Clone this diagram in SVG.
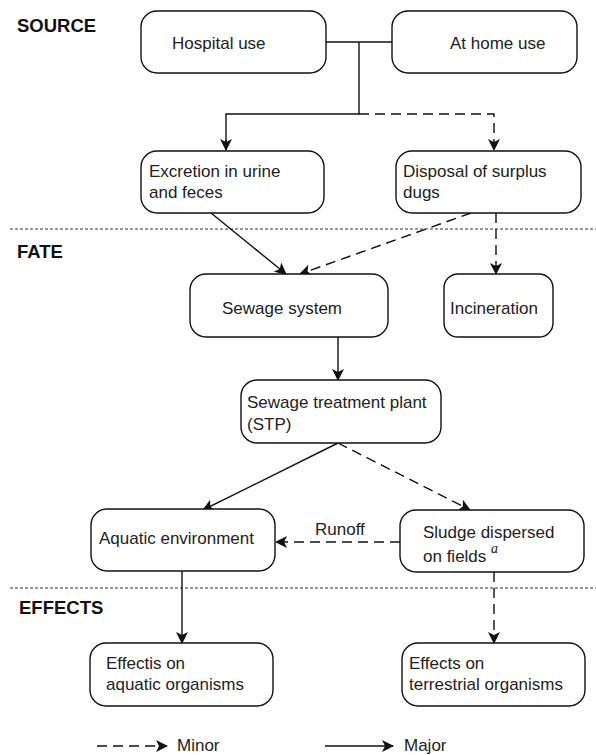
<svg xmlns="http://www.w3.org/2000/svg" width="596" height="755" viewBox="0 0 596 755">
<style>
  .box { fill: #fff; stroke: #111; stroke-width: 1.4; }
  .t { font-family: "Liberation Sans", Arial, sans-serif; font-size: 17px; fill: #222; }
  .h { font-family: "Liberation Sans", Arial, sans-serif; font-size: 18.5px; font-weight: bold; fill: #111; }
  .ln { fill: none; stroke: #111; stroke-width: 1.4; }
  .dl { fill: none; stroke: #111; stroke-width: 1.4; stroke-dasharray: 10 6; }
  .sep { fill: none; stroke: #333; stroke-width: 1; stroke-dasharray: 3 2; }
</style>
<defs>
  <marker id="ah" viewBox="0 0 12 12" refX="11" refY="6" markerWidth="12" markerHeight="12" markerUnits="userSpaceOnUse" orient="auto">
    <path d="M0,0 L12,6 L0,12 L3,6 z" fill="#111"/>
  </marker>
</defs>
<rect width="596" height="755" fill="#fff"/>

<g id="section-labels">
  <text class="h" x="17" y="32">SOURCE</text>
  <text class="h" x="17" y="258">FATE</text>
  <text class="h" x="19" y="614">EFFECTS</text>
  <line class="sep" x1="10" y1="229" x2="596" y2="229"/>
  <line class="sep" x1="10" y1="588" x2="596" y2="588"/>
</g>

<g id="connectors">
  <polyline class="ln" points="326,42 392,42"/>
  <polyline class="ln" points="359,42 359,114 226,114 226,150"/>
  <polyline class="dl" points="359,114 494,114 494,150" marker-end="url(#ah)"/>
  <line class="ln" x1="226" y1="140" x2="226" y2="150" marker-end="url(#ah)"/>
  <line class="ln" x1="211" y1="213" x2="286" y2="274" marker-end="url(#ah)"/>
  <line class="dl" x1="471" y1="213" x2="300" y2="274" marker-end="url(#ah)"/>
  <line class="dl" x1="496" y1="213" x2="496" y2="274" marker-end="url(#ah)"/>
  <line class="ln" x1="338" y1="337" x2="338" y2="380" marker-end="url(#ah)"/>
  <line class="ln" x1="338" y1="443" x2="203" y2="510" marker-end="url(#ah)"/>
  <line class="dl" x1="338" y1="443" x2="470" y2="510" marker-end="url(#ah)"/>
  <line class="dl" x1="400" y1="542" x2="276" y2="542" marker-end="url(#ah)"/>
  <line class="ln" x1="182" y1="571" x2="182" y2="643" marker-end="url(#ah)"/>
  <line class="dl" x1="494" y1="572" x2="494" y2="643" marker-end="url(#ah)"/>
  <text class="t" x="315" y="535">Runoff</text>
</g>

<g id="hospital"><rect class="box" x="141" y="11" width="185" height="62" rx="16"/><text class="t" x="172" y="49">Hospital use</text></g>
<g id="athome"><rect class="box" x="392" y="11" width="185" height="62" rx="16"/><text class="t" x="450" y="49">At home use</text></g>
<g id="excretion"><rect class="box" x="141" y="151" width="183" height="62" rx="16"/><text class="t" x="149" y="177">Excretion in urine</text><text class="t" x="149" y="198">and feces</text></g>
<g id="disposal"><rect class="box" x="396" y="151" width="185" height="62" rx="16"/><text class="t" x="403" y="177">Disposal of surplus</text><text class="t" x="403" y="198">dugs</text></g>
<g id="sewage"><rect class="box" x="190" y="274" width="198" height="63" rx="16"/><text class="t" x="222" y="314">Sewage system</text></g>
<g id="incineration"><rect class="box" x="444" y="274" width="109" height="63" rx="14"/><text class="t" x="450" y="314">Incineration</text></g>
<g id="stp"><rect class="box" x="241" y="380" width="200" height="63" rx="16"/><text class="t" x="247" y="408">Sewage treatment plant</text><text class="t" x="247" y="430">(STP)</text></g>
<g id="aquatic"><rect class="box" x="91" y="509" width="184" height="62" rx="16"/><text class="t" x="99" y="544">Aquatic environment</text></g>
<g id="sludge"><rect class="box" x="400" y="510" width="184" height="62" rx="16"/><text class="t" x="423" y="538">Sludge dispersed</text><text class="t" x="423" y="562">on fields</text><text x="491" y="553" font-family="'Liberation Serif', serif" font-style="italic" font-size="14" fill="#222">a</text></g>
<g id="effects-aquatic"><rect class="box" x="90" y="643" width="183" height="63" rx="16"/><text class="t" x="106" y="669">Effectis on</text><text class="t" x="106" y="690">aquatic organisms</text></g>
<g id="effects-terrestrial"><rect class="box" x="402" y="643" width="183" height="63" rx="16"/><text class="t" x="409" y="669">Effects on</text><text class="t" x="409" y="690">terrestrial organisms</text></g>

<g id="legend">
  <line class="dl" x1="97" y1="746" x2="167" y2="746" stroke-dasharray="11 7" marker-end="url(#ah)"/>
  <text class="t" x="177" y="751">Minor</text>
  <line class="ln" x1="325" y1="746" x2="393" y2="746" marker-end="url(#ah)"/>
  <text class="t" x="404" y="751">Major</text>
</g>
</svg>
